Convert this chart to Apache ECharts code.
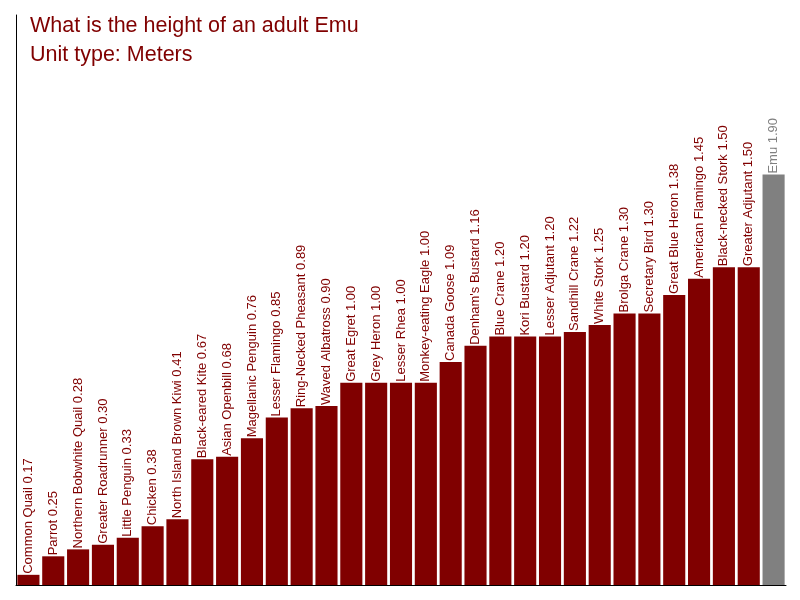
<!DOCTYPE html>
<html>
<head>
<meta charset="utf-8">
<script src="https://cdn.jsdelivr.net/npm/echarts@6/dist/echarts.min.js"></script>
<style>
  html, body { margin: 0; padding: 0; background: #fff; }
  #chart { width: 800px; height: 600px; }
</style>
</head>
<body>
<div id="chart"></div>
<script>
var birds = ['Common Quail', 'Parrot', 'Northern Bobwhite Quail', 'Greater Roadrunner',
    'Little Penguin', 'Chicken', 'North Island Brown Kiwi', 'Black-eared Kite',
    'Asian Openbill', 'Magellanic Penguin', 'Lesser Flamingo', 'Ring-Necked Pheasant',
    'Waved Albatross', 'Great Egret', 'Grey Heron', 'Lesser Rhea', 'Monkey-eating Eagle',
    'Canada Goose', "Denham's Bustard", 'Blue Crane', 'Kori Bustard', 'Lesser Adjutant',
    'Sandhill Crane', 'White Stork', 'Brolga Crane', 'Secretary Bird', 'Great Blue Heron',
    'American Flamingo', 'Black-necked Stork', 'Greater Adjutant', 'Emu']
var heights = [0.17, 0.25, 0.28, 0.30, 0.33, 0.38, 0.41, 0.67, 0.68, 0.76, 0.85, 0.89,
    0.90, 1.00, 1.00, 1.00, 1.00, 1.09, 1.16, 1.20, 1.20, 1.20, 1.22, 1.25, 1.30, 1.30,
    1.38, 1.45, 1.50, 1.50, 1.90]
var highlight = 'Emu'

var red = '#800000'
var grey = '#808080'

var echart = echarts.init(document.getElementById('chart'))

var data = birds.map(function (name, i) {
    var c = name === highlight ? grey : red
    return {
        value: heights[i],
        itemStyle: { color: c },
        label: { color: c }
    }
})

option = {
    animation: false,
    title: {
        text: 'What is the height of an adult Emu\nUnit type: Meters',
        left: 25,
        top: 7,
        textStyle: {
            fontFamily: 'Liberation Sans',
            fontSize: 21.5,
            lineHeight: 29,
            fontWeight: 'normal',
            color: red
        }
    },
    grid: { left: 16, right: 14, top: 15, bottom: 15 },
    xAxis: {
        type: 'category',
        data: birds,
        axisLine: { lineStyle: { color: '#000', width: 1 } },
        axisTick: { show: false },
        axisLabel: { show: false }
    },
    yAxis: {
        type: 'value',
        min: 0.126,
        max: 2.59,
        axisLine: { show: true, lineStyle: { color: '#000', width: 1 } },
        axisTick: { show: false },
        axisLabel: { show: false },
        splitLine: { show: false }
    },
    series: [
        {
            type: 'bar',
            data: data,
            barCategoryGap: '11%',
            label: {
                show: true,
                position: 'top',
                rotate: 90,
                align: 'left',
                verticalAlign: 'middle',
                distance: 1,
                fontFamily: 'Liberation Sans',
                fontSize: 13,
                formatter: function (p) {
                    return p.name + ' ' + p.value.toFixed(2)
                }
            }
        }
    ]
}

echart.setOption(option)
</script>
</body>
</html>
